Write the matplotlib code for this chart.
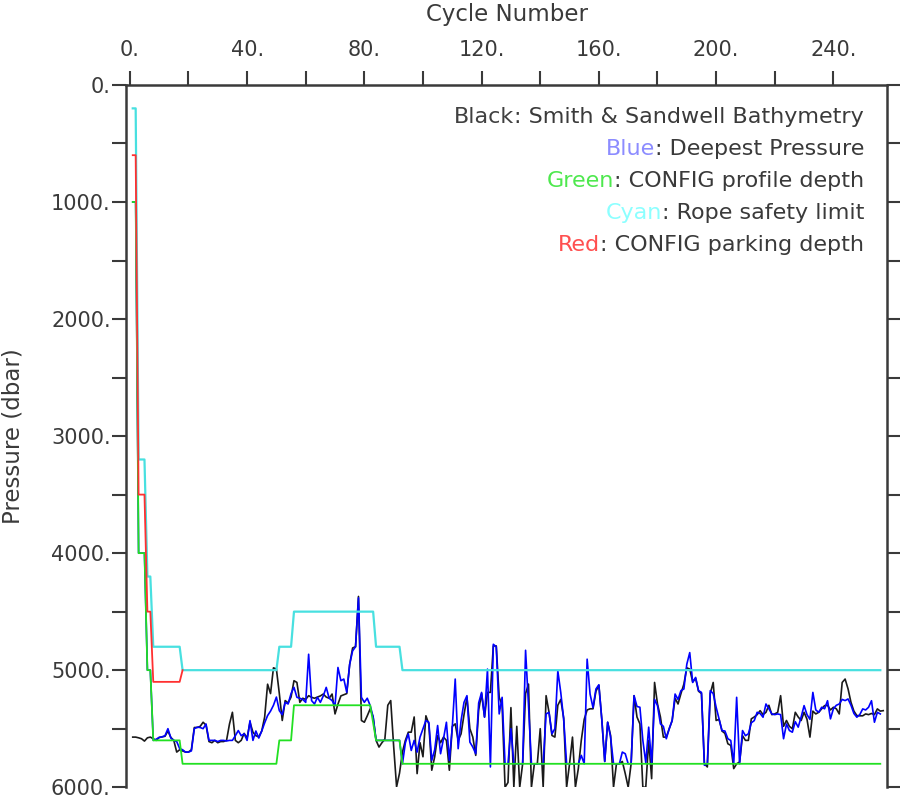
import numpy as np
import matplotlib
matplotlib.use("Agg")
from matplotlib import pyplot as plt

# Smith & Sandwell bathymetry under the float, cycles 1..257 (dbar)
bathy = [
    5572, 5572, 5578, 5586, 5606, 5578, 5572, 5586, 5600, 5575,
    5570, 5565, 5520, 5575, 5600, 5700, 5680, 5690, 5700, 5700,
    5680, 5490, 5490, 5480, 5445, 5470, 5610, 5620, 5600, 5620,
    5610, 5610, 5600, 5460, 5360, 5600, 5620, 5600, 5540, 5580,
    5445, 5530, 5560, 5570, 5520, 5400, 5120, 5200, 4980, 4990,
    5200, 5430, 5260, 5280, 5230, 5090, 5105, 5275, 5240, 5250,
    5218, 5232, 5240, 5230, 5220, 5204, 5230, 5240, 5204, 5374,
    5290, 5220, 5210, 5200, 4950, 4810, 4800, 4370, 5430, 5445,
    5390, 5330, 5400, 5600, 5657, 5620, 5590, 5300, 5260, 5650,
    5997, 5880, 5700, 5600, 5530, 5530, 5400, 5884, 5620, 5740,
    5390, 5460, 5855, 5740, 5560, 5620, 5572, 5600, 5855, 5480,
    5459, 5600, 5544, 5380, 5232, 5500, 5572, 5728, 5340, 5200,
    5400, 5190, 5190, 4793, 4793, 5232, 5300, 6000, 5960, 5320,
    6000, 5480, 6000, 5800, 5200, 5119, 6000, 5800, 5800, 5500,
    6000, 5218, 5360, 5558, 5572, 5300, 5250, 5410, 6000, 5800,
    5572, 6000, 5840, 5600, 5420, 5340, 5330, 5330, 5180, 5130,
    5420, 5780, 5445, 5558, 6000, 5800, 5800, 5780, 5884, 6000,
    5800, 5218, 5400, 5459, 6000, 6000, 5600, 5927, 5105, 5289,
    5400, 5572, 5572, 5500, 5430, 5240, 5289, 5200, 5119, 4980,
    4991, 5100, 5070, 5180, 5200, 5800, 5827, 5200, 5105, 5430,
    5420, 5520, 5540, 5629, 5643, 5841, 5800, 5785, 5560, 5600,
    5600, 5416, 5400, 5380, 5346, 5380, 5360, 5300, 5380, 5374,
    5360, 5218, 5480, 5430, 5480, 5501, 5360, 5400, 5430, 5360,
    5420, 5572, 5350, 5374, 5360, 5330, 5303, 5300, 5340, 5317,
    5330, 5374, 5105, 5076, 5160, 5275, 5350, 5388, 5390, 5390,
    5374, 5380, 5370, 5380, 5331, 5350, 5346,
]

# deepest pressure reached, cycles 1..256 (dbar)
deepest = [
    1000, 1000, 4000, 4000, 4000, 5000, 5000, 5600,
    5590, 5575, 5570, 5560, 5500, 5580, 5600, 5610, 5670, 5680,
    5700, 5700, 5690, 5500, 5487, 5490, 5500, 5460, 5600, 5600,
    5600, 5610, 5600, 5600, 5605, 5600, 5600, 5560, 5516, 5560,
    5544, 5600, 5431, 5600, 5520, 5580, 5520, 5450, 5388, 5350,
    5300, 5230,
    5346, 5380, 5275, 5289, 5200, 5147, 5232, 5240, 5250, 5275,
    4864, 5260, 5289, 5232, 5275, 5220, 5147, 5240, 5260, 5303,
    4977, 5090, 5076, 5190, 4950, 4835, 4800, 4382, 5232, 5275,
    5240, 5303, 5400, 5600, 5600, 5600, 5600, 5600, 5600, 5600,
    5600, 5600, 5800, 5620, 5544, 5686, 5600, 5700, 5572, 5500,
    5430, 5445, 5771, 5680, 5473, 5714, 5586, 5445, 5771, 5487,
    5076, 5671, 5430, 5275, 5218, 5615, 5657, 5714, 5280, 5190,
    5402, 4991, 5827, 4779, 4800, 5374, 5232, 5800, 5800, 5500,
    5800, 5800, 5800, 5800, 4830, 5300, 5800, 5800, 5800, 5800,
    5800, 5374, 5360, 5544, 5500, 5006, 5190, 5420, 5800, 5800,
    5800, 5800, 5800, 5728, 5800, 4906, 5204, 5320, 5161, 5125,
    5420, 5780, 5445, 5572, 5800, 5800, 5800, 5700, 5714, 5800,
    5800, 5218, 5310, 5317, 5600, 5790, 5487, 5800, 5250, 5303,
    5459, 5480, 5586, 5500, 5431, 5204, 5250, 5175, 5161, 4949,
    4850, 5105, 5062, 5175, 5190, 5813, 5800, 5175, 5200, 5317,
    5416, 5516, 5520, 5586, 5601, 5800, 5232, 5800, 5516, 5560,
    5544, 5450, 5431, 5360, 5370, 5402, 5289, 5330, 5374, 5380,
    5374, 5380, 5586, 5460, 5516, 5530, 5440, 5487, 5400, 5303,
    5380, 5420, 5190, 5340, 5360, 5317, 5330, 5261, 5416, 5330,
    5300, 5289, 5250, 5260, 5246, 5300, 5370, 5402, 5380, 5331,
    5340, 5317, 5261, 5445, 5360, 5374,
]

# CONFIG values as (first cycle, value), held until the next change; last cycle 256
profile_cfg = [(1, 1000), (3, 4000), (6, 5000), (8, 5600), (18, 5800), (51, 5600),
               (56, 5300), (83, 5450), (84, 5600), (93, 5800)]
rope_cfg = [(1, 200), (3, 3200), (6, 4200), (8, 4800), (18, 5000), (51, 4800),
            (56, 4500), (84, 4800), (93, 5000)]
park_cfg = [(1, 600), (3, 3500), (6, 4500), (8, 5100), (18, 5000)]
last_cycle = 256
last_park = 18


def expand(cfg, last):
    out = []
    for i, (c0, v) in enumerate(cfg):
        c1 = cfg[i + 1][0] if i + 1 < len(cfg) else last + 1
        out += [v] * (c1 - c0)
    return np.arange(1, last + 1), np.array(out)


legend = [("Black", "#404040", ": Smith & Sandwell Bathymetry"),
          ("Blue", "#8c8cff", ": Deepest Pressure"),
          ("Green", "#4ee84e", ": CONFIG profile depth"),
          ("Cyan", "#8cffff", ": Rope safety limit"),
          ("Red", "#ff5050", ": CONFIG parking depth")]

txt = "#3a3a3a"
plt.rcParams["font.family"] = ["DejaVu Sans"]
fig = plt.figure(figsize=[9, 8], dpi=100)
ax = fig.add_axes([0.14, 0.016, 0.8456, 0.8778])

ax.plot(np.arange(1, len(bathy) + 1), bathy, color="#1a1a1a", lw=1.2)
ax.plot(np.arange(1, len(deepest) + 1), deepest, color="#0000ff", lw=1.2)
x, y = expand(profile_cfg, last_cycle)
ax.plot(x, y, color="#22e022", lw=1.3)
x, y = expand(rope_cfg, last_cycle)
ax.plot(x, y, color="#48e0e0", lw=1.6)
x, y = expand(park_cfg, last_park)
ax.plot(x, y, color="#ff3030", lw=1.3)

ax.set_xlim(-1.3, 258.3)
ax.set_ylim(6000, 0)
ax.xaxis.tick_top()
ax.xaxis.set_label_position("top")
ax.set_xticks(np.arange(0, 241, 40))
ax.set_xticks(np.arange(20, 260, 40), minor=True)
ax.set_xticklabels([f"{v}." for v in range(0, 241, 40)])
ax.set_yticks(np.arange(0, 6001, 1000))
ax.set_yticks(np.arange(500, 6000, 1000), minor=True)
ax.set_yticklabels([f"{v}." for v in range(0, 6001, 1000)])
ax.tick_params(which="both", direction="out", length=10, width=1.5, color=txt,
               labelsize=15, labelcolor=txt, right=True)
ax.tick_params(axis="x", which="both", pad=8)
ax.tick_params(axis="y", which="both", pad=1)
for s in ["top", "left", "right"]:
    ax.spines[s].set_linewidth(1.8)
    ax.spines[s].set_color(txt)
ax.spines["bottom"].set_visible(False)
ax.set_xlabel("Cycle Number", fontsize=16.5, color=txt, labelpad=14)
ax.set_ylabel("Pressure (dbar)", fontsize=16.5, color=txt, labelpad=19)

# coloured legend lines in the upper right
for i, (word, col, rest) in enumerate(legend):
    ypos = 0.955 - i * 0.0457
    t = ax.text(0.970, ypos, rest, transform=ax.transAxes, ha="right", va="center",
                fontsize=16, color=txt)
    fig.canvas.draw()
    bb = t.get_window_extent().transformed(ax.transAxes.inverted())
    ax.text(bb.x0, ypos, word, transform=ax.transAxes, ha="right", va="center",
            fontsize=16, color=col)

fig.savefig("out.png", dpi=100)
